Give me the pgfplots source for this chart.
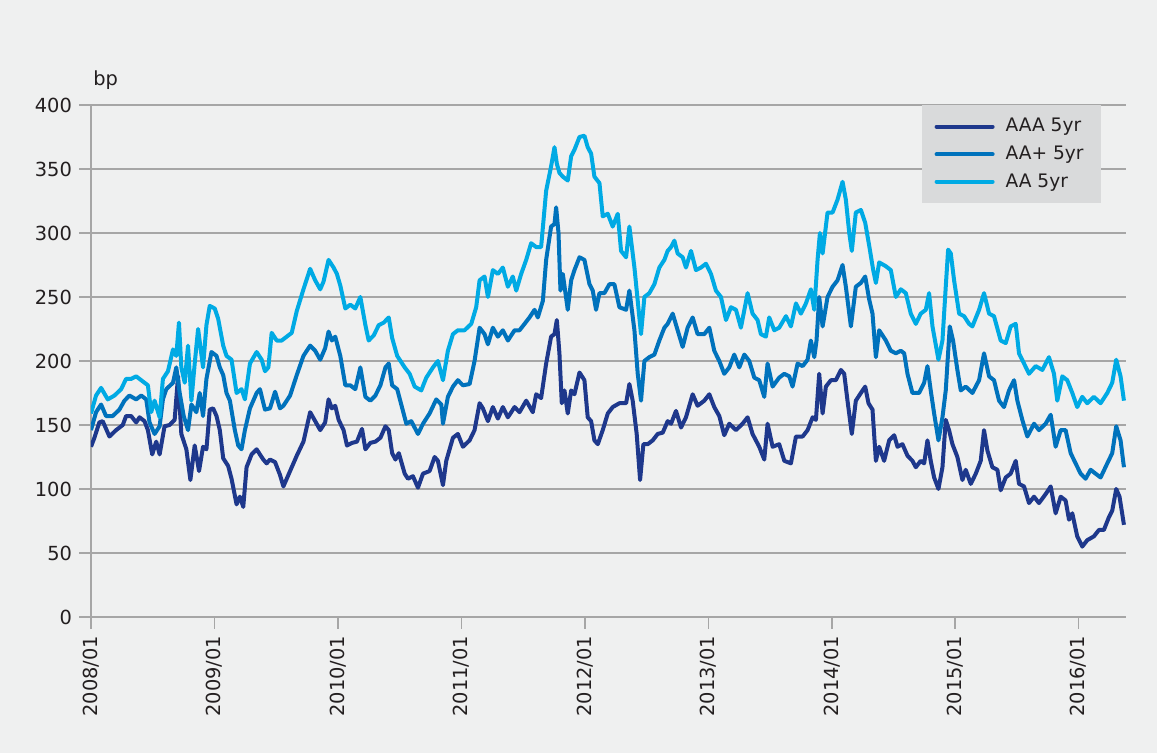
\documentclass[border=0pt]{standalone}
\usepackage{fontspec}
\setmainfont{DejaVu Sans}
\usepackage{pgfplots}
\pgfplotsset{compat=1.18}
\definecolor{bg}{RGB}{239,240,240}
\definecolor{leg}{RGB}{217,218,219}
\definecolor{gridc}{RGB}{166,166,166}
\definecolor{aaa}{RGB}{30,56,140}
\definecolor{aap}{RGB}{0,114,188}
\definecolor{aa}{RGB}{0,170,228}
\definecolor{txt}{RGB}{35,31,32}
\begin{document}
\begin{tikzpicture}
\fill[bg] (0,0) rectangle (578.5pt,376.5pt);
\begin{axis}[
  at={(45.5pt,68pt)}, anchor=south west,
  scale only axis, width=517.5pt, height=256pt,
  xmin=0, xmax=100.6, ymin=0, ymax=400,
  axis lines=left,
  axis line style={gridc, line width=0.75pt, -},
  ytick={0,50,...,400},
  xtick={0,12,...,96},
  xticklabels={2008/01,2009/01,2010/01,2011/01,2012/01,2013/01,2014/01,2015/01,2016/01},
  tick align=outside, major tick length=6pt,
  tick style={gridc, line width=0.75pt},
  ymajorgrids, grid style={gridc, line width=0.75pt},
  /pgf/number format/assume math mode=true,
  ticklabel style={font=\fontsize{9.7}{11}\selectfont, text=txt},
  x tick label style={rotate=90, anchor=east},
  legend style={at={(axis description cs:0.9758,1)}, anchor=north east,
    fill=leg, draw=none, inner xsep=6.5pt, inner ysep=4.5pt, row sep=1.5pt,
    font=\fontsize{9.3}{10.5}\selectfont, text=txt,
    /tikz/every odd column/.append style={column sep=3.5pt}},
  legend cell align=left,
  legend image code/.code={\draw[#1, line cap=round] (0pt,0pt) -- (28pt,0pt);},
  every axis plot/.append style={line width=2pt, line join=round},
]
\addplot[aaa] coordinates {
(0,133)(0.33,140)(0.81,152)(1.14,153)(1.79,141)(2.44,146)(3.09,150)(3.41,157)(3.90,157)(4.39,152)(4.72,156)(5.20,153)(5.53,146)(5.95,127)(6.34,137)(6.67,127)(7.15,149)(7.64,150)(8.13,154)(8.46,188)(8.78,143)(9.27,131)(9.66,107)(10.08,134)(10.50,114)(10.89,133)(11.22,131)(11.54,162)(11.87,163)(12.20,157)(12.52,146)(12.85,124)(13.33,118)(13.66,108)(14.15,88)(14.47,94)(14.80,86)(15.12,117)(15.61,127)(16.10,131)(16.42,127)(16.75,123)(17.07,120)(17.40,123)(17.89,121)(18.37,111)(18.70,102)(19.35,114)(20.00,126)(20.65,137)(21.30,160)(21.79,153)(22.28,146)(22.76,152)(23.09,170)(23.41,163)(23.74,165)(24.07,154)(24.55,146)(24.88,134)(25.37,136)(25.85,137)(26.34,147)(26.67,131)(27.15,136)(27.64,137)(28.13,140)(28.62,149)(28.94,146)(29.27,128)(29.59,123)(29.92,128)
(30.49,112)(30.81,108)(31.29,110)(31.78,101)(32.27,112)(32.91,114)(33.40,125)(33.72,122)(34.21,103)(34.53,122)(35.18,140)(35.66,143)(36.15,133)(36.80,138)(37.28,146)(37.77,167)(38.09,163)(38.58,153)(39.06,164)(39.55,155)(40.03,164)(40.52,156)(41.17,164)(41.65,160)(42.30,169)(42.94,160)(43.27,174)(43.75,171)(44.24,198)(44.72,219)(45.05,221)(45.28,232)(45.53,206)(45.76,167)(46.02,177)(46.34,159)(46.67,177)(46.99,174)(47.48,191)(47.96,185)(48.28,156)(48.61,153)(48.93,138)(49.26,135)(49.74,146)(50.23,159)(50.71,164)(51.36,167)(52.01,167)(52.33,182)(52.65,169)(53.04,143)(53.37,107)(53.69,135)(54.11,135)(54.60,138)(55.08,143)(55.57,144)(56.05,153)(56.38,151)(56.86,161)(57.35,148)(57.83,156)(58.48,174)(58.96,165)(59.61,169)(60.10,174)(60.58,164)(61.07,157)(61.55,142)(62.04,151)(62.69,146)(63.33,151)(63.82,156)(64.30,143)(64.95,133)(65.44,123)(65.76,151)(66.25,133)(66.89,135)
(67.39,122)(68.03,120)(68.52,141)(69.17,141)(69.65,146)(70.14,156)(70.46,154)(70.78,190)(71.11,159)(71.43,180)(71.92,185)(72.40,185)(72.89,193)(73.21,190)(73.53,169)(73.95,143)(74.34,169)(74.83,175)(75.25,180)(75.57,167)(75.96,162)(76.29,122)(76.61,133)(77.09,122)(77.58,138)(78.07,142)(78.39,133)(78.87,135)(79.36,126)(79.84,122)(80.17,117)(80.65,122)(80.98,120)(81.30,138)(81.62,122)(81.95,109)(82.37,100)(82.76,117)(83.08,154)(83.40,146)(83.73,135)(84.21,125)(84.70,107)(85.02,115)(85.51,104)(86.00,112)(86.48,122)(86.80,146)(87.13,130)(87.61,117)(88.10,115)(88.42,99)(88.91,109)(89.39,112)(89.88,122)(90.20,104)(90.69,102)(91.17,89)(91.66,94)(92.14,89)(92.79,96)(93.28,102)(93.76,81)(94.25,94)(94.73,91)(95.06,76)(95.38,81)(95.86,63)(96.35,55)(96.83,60)(97.48,63)(97.97,68)(98.45,68)(98.94,78)(99.26,83)(99.65,100)(99.97,94)(100.40,72)
};
\addlegendentry{AAA 5yr}
\addplot[aap] coordinates {
(0,146)(0.49,160)(0.98,166)(1.46,157)(2.11,157)(2.76,162)(3.25,169)(3.74,173)(4.39,170)(4.88,173)(5.37,170)(5.69,152)(6.18,143)(6.67,149)(6.99,170)(7.32,178)(7.97,183)(8.29,195)(8.62,175)(9.01,157)(9.43,146)(9.76,166)(10.24,160)(10.57,175)(10.89,157)(11.22,186)(11.71,207)(12.20,204)(12.52,195)(12.85,189)(13.17,175)(13.50,169)(13.98,146)(14.31,134)(14.63,131)(14.96,146)(15.45,163)(16.10,175)(16.42,178)(16.91,162)(17.40,163)(17.89,176)(18.37,163)(18.70,165)(19.35,173)(20.00,189)(20.65,204)(21.30,212)(21.79,208)(22.28,201)(22.76,210)(23.09,223)(23.41,216)(23.74,219)(24.23,204)(24.72,181)(25.20,181)(25.69,178)(26.18,195)(26.67,172)(27.15,169)(27.64,173)(28.13,181)(28.62,195)(28.94,198)(29.27,181)(29.76,178)
(30.65,151)(31.13,153)(31.78,143)(32.27,151)(32.91,159)(33.56,170)(34.05,166)(34.21,151)(34.69,172)(35.18,180)(35.66,185)(36.15,181)(36.80,182)(37.28,200)(37.77,226)(38.25,221)(38.58,213)(39.06,226)(39.55,219)(40.03,224)(40.52,216)(41.17,224)(41.65,224)(42.14,229)(42.62,234)(43.11,240)(43.43,234)(43.92,247)(44.24,279)(44.72,305)(45.05,307)(45.21,320)(45.44,300)(45.63,255)(45.86,268)(46.34,240)(46.67,263)(46.99,271)(47.48,281)(47.96,279)(48.45,260)(48.77,255)(49.09,240)(49.42,253)(49.90,253)(50.39,260)(50.87,260)(51.36,242)(52.01,240)(52.33,255)(52.82,224)(53.14,190)(53.46,169)(53.79,200)(54.27,203)(54.76,205)(55.24,216)(55.73,226)(56.05,229)(56.54,237)(57.02,224)(57.51,211)(57.99,226)(58.48,234)(58.96,221)(59.61,221)(60.10,226)(60.58,208)(61.07,200)(61.55,190)(62.04,195)(62.52,205)(63.01,195)(63.50,205)(63.98,200)(64.47,187)(64.95,185)(65.44,172)(65.76,198)(66.25,180)(66.89,187)
(67.39,190)(67.87,188)(68.19,180)(68.68,198)(69.17,196)(69.65,201)(69.97,216)(70.30,203)(70.52,216)(70.78,250)(71.11,227)(71.59,250)(72.08,258)(72.56,263)(73.05,275)(73.37,258)(73.86,227)(74.34,258)(74.83,261)(75.25,266)(75.64,248)(75.96,237)(76.29,203)(76.61,224)(77.26,216)(77.74,208)(78.23,206)(78.71,208)(79.04,206)(79.36,190)(79.84,175)(80.49,175)(80.98,183)(81.30,196)(81.62,177)(81.95,159)(82.37,138)(82.76,156)(83.08,177)(83.47,227)(83.79,216)(84.21,193)(84.54,177)(85.02,180)(85.67,175)(86.32,185)(86.80,206)(87.29,188)(87.77,185)(88.26,169)(88.74,164)(89.23,177)(89.72,185)(90.04,169)(90.52,154)(91.01,141)(91.66,151)(92.14,146)(92.79,151)(93.28,158)(93.76,133)(94.25,146)(94.73,146)(95.22,128)(95.70,120)(96.19,112)(96.67,108)(97.16,115)(97.64,112)(98.13,109)(98.78,120)(99.26,128)(99.65,149)(100.07,138)(100.40,117)
};
\addlegendentry{AA+ 5yr}
\addplot[aa] coordinates {
(0,159)(0.49,173)(0.98,179)(1.63,170)(2.28,173)(2.93,178)(3.41,186)(3.90,186)(4.39,188)(5.04,184)(5.53,181)(5.85,160)(6.18,169)(6.67,156)(6.99,186)(7.48,192)(7.97,209)(8.29,204)(8.55,230)(8.78,195)(9.11,183)(9.43,212)(9.76,169)(10.08,198)(10.41,225)(10.89,195)(11.22,228)(11.54,243)(12.03,241)(12.36,233)(12.85,212)(13.17,204)(13.66,201)(14.15,175)(14.63,178)(14.96,170)(15.45,198)(16.10,207)(16.59,201)(16.91,192)(17.24,195)(17.56,222)(18.05,216)(18.54,216)(19.02,219)(19.51,222)(20.00,239)(20.65,256)(21.30,272)(21.79,263)(22.28,256)(22.60,262)(23.09,279)(23.58,273)(23.90,268)(24.23,259)(24.72,241)(25.20,244)(25.69,241)(26.18,250)(26.67,228)(26.99,216)(27.48,220)(27.97,228)(28.46,230)(28.94,234)(29.27,218)(29.76,204)
(30.49,195)(30.97,190)(31.46,180)(32.10,177)(32.59,187)(33.24,195)(33.72,200)(34.21,185)(34.69,208)(35.18,221)(35.66,224)(36.31,224)(36.96,229)(37.44,242)(37.77,263)(38.25,266)(38.58,250)(39.06,271)(39.55,268)(40.03,273)(40.52,258)(41.00,266)(41.33,255)(41.81,268)(42.30,279)(42.78,292)(43.27,289)(43.75,289)(44.24,333)(44.72,352)(45.05,367)(45.28,354)(45.53,347)(45.86,344)(46.34,341)(46.67,360)(46.99,365)(47.48,375)(47.96,376)(48.28,367)(48.61,362)(48.93,344)(49.42,339)(49.74,313)(50.23,315)(50.71,305)(51.20,315)(51.52,286)(52.01,281)(52.33,305)(52.82,273)(53.14,247)(53.46,221)(53.79,250)(54.27,253)(54.76,260)(55.24,273)(55.73,279)(56.05,286)(56.38,289)(56.70,294)(57.02,284)(57.51,281)(57.83,273)(58.32,286)(58.80,271)(59.29,273)(59.77,276)(60.26,268)(60.74,255)(61.23,250)(61.72,232)(62.20,242)(62.69,240)(63.17,226)(63.82,253)(64.30,237)(64.79,232)(65.11,221)(65.60,219)(65.92,234)(66.41,224)(66.89,226)
(67.55,235)(68.03,227)(68.52,245)(69.00,237)(69.49,245)(69.97,256)(70.30,240)(70.62,279)(70.85,300)(71.11,284)(71.59,316)(72.08,316)(72.56,326)(73.05,340)(73.37,326)(73.70,300)(73.95,286)(74.34,316)(74.83,318)(75.25,308)(75.64,290)(76.03,271)(76.29,261)(76.61,277)(77.26,274)(77.74,271)(78.23,250)(78.71,256)(79.20,253)(79.68,237)(80.17,229)(80.65,237)(81.14,240)(81.46,253)(81.79,227)(82.37,201)(82.76,216)(83.08,258)(83.31,287)(83.57,284)(83.89,263)(84.38,237)(84.86,235)(85.35,229)(85.67,227)(86.32,240)(86.80,253)(87.29,237)(87.77,235)(88.42,216)(88.91,214)(89.39,227)(89.88,229)(90.20,206)(90.69,198)(91.17,190)(91.82,196)(92.47,193)(93.11,203)(93.60,190)(93.92,169)(94.41,188)(94.89,185)(95.38,175)(95.86,164)(96.35,172)(96.83,167)(97.48,172)(98.13,167)(98.78,175)(99.26,183)(99.65,201)(100.07,188)(100.40,169)
};
\addlegendentry{AA 5yr}
\end{axis}
\node[anchor=base west, font=\fontsize{9.7}{11}\selectfont, text=txt, inner sep=0pt] at (46.5pt,333.5pt) {bp};
\end{tikzpicture}
\end{document}
